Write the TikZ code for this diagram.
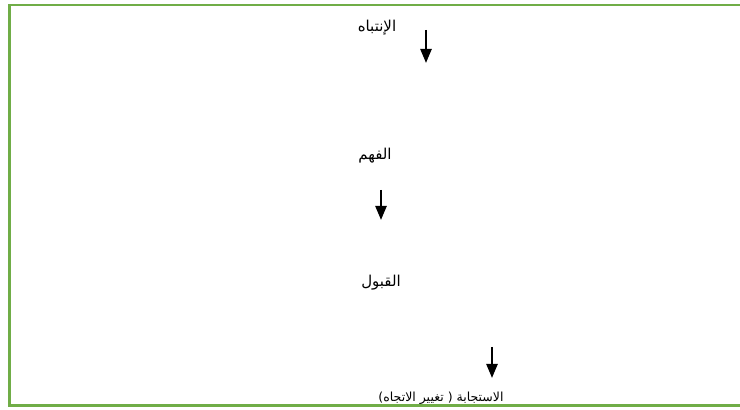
\documentclass[tikz,border=0pt]{standalone}
\usepackage{fontspec}
\usetikzlibrary{arrows.meta}
\TeXXeTstate=1
\newfontfamily\arabicfont[Script=Arabic]{DejaVu Sans}
\definecolor{framegreen}{RGB}{112,173,71}
\tikzset{
  lbl/.style={anchor=base, inner sep=0pt, font=\arabicfont\fontsize{15pt}{17pt}\selectfont},
  lblsmall/.style={anchor=base, inner sep=0pt, font=\arabicfont\fontsize{12.5pt}{15pt}\selectfont},
  downarrow/.style={line width=2.4pt, -{Triangle[width=11pt,length=14pt]}}
}
\begin{document}
\begin{tikzpicture}[x=1pt,y=1pt]
\useasboundingbox (0,0) rectangle (740,410);
\fill[white] (0,0) rectangle (740,410);
\node[lbl] (t1) at (377,378) {\beginR الإنتباه\endR};
\node[lbl] (t2) at (375,250) {\beginR الفهم\endR};
\node[lbl] (t3) at (381,123) {\beginR القبول\endR};
\begin{scope}
\clip (0,5) rectangle (740,410);
\node[lblsmall] (t4) at (441,8.5) {\beginR الاستجابة ( تغيير الاتجاه)\endR};
\end{scope}
\coordinate (a1s) at (426,380);
\coordinate (a1e) at (426,347);
\coordinate (a2s) at (381,220);
\coordinate (a2e) at (381,190);
\coordinate (a3s) at (492,63);
\coordinate (a3e) at (492,32);
\draw[downarrow] (a1s) -- (a1e);
\draw[downarrow] (a2s) -- (a2e);
\draw[downarrow] (a3s) -- (a3e);
\draw[framegreen, line width=2.5pt] (745,4.5) -- (9.5,4.5) -- (9.5,405) -- (745,405);
\end{tikzpicture}
\end{document}
